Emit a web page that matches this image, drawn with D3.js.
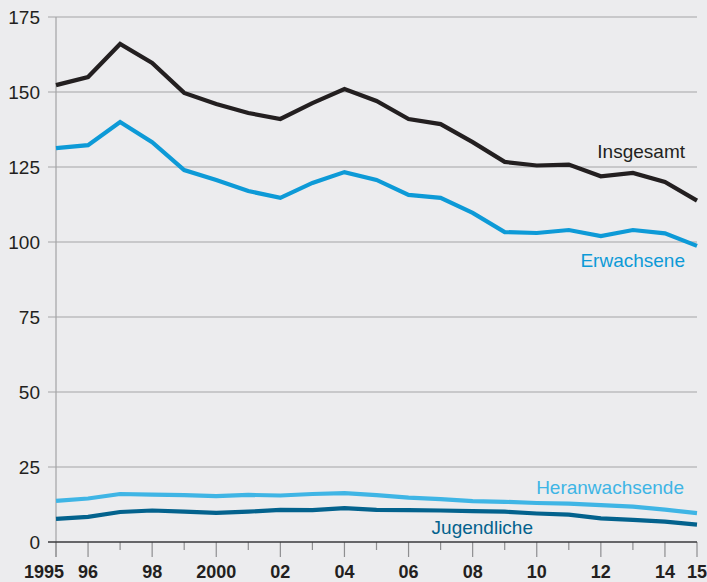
<!DOCTYPE html>
<html><head><meta charset="utf-8">
<script src="https://cdn.jsdelivr.net/npm/d3@7"></script>
<style>
html,body{margin:0;padding:0;background:#ececee;}
svg{display:block;font-family:"Liberation Sans",Arial,sans-serif;}
</style></head>
<body>
<svg id="c" width="707" height="582"></svg>
<script>
const years = d3.range(1995, 2016);
const insgesamt = [152.3,155,166,159.7,149.7,146,143,141,146.3,151,147,141,139.3,133.3,126.7,125.5,125.8,121.9,123,120,113.8];
const erwachsene = [131.3,132.3,140,133.3,124,120.7,117,114.7,119.7,123.3,120.7,115.7,114.7,109.7,103.3,103,104,102,104,102.9,98.7];
const heranwachsende = [13.7,14.5,16,15.8,15.6,15.3,15.7,15.5,16,16.3,15.6,14.8,14.3,13.6,13.4,13,12.8,12.3,11.8,10.8,9.6];
const jugendliche = [7.7,8.4,10,10.5,10.1,9.7,10.1,10.7,10.6,11.3,10.7,10.6,10.5,10.3,10.1,9.5,9.1,7.9,7.4,6.8,5.8];
const yTicks = [0,25,50,75,100,125,150,175];
const xLabels = {1995:"1995",1996:"96",1998:"98",2000:"2000",2002:"02",2004:"04",2006:"06",2008:"08",2010:"10",2012:"12",2014:"14",2015:"15"};

const series = [
  {name:"Insgesamt", values:insgesamt, color:"#231f20", lx:685, ly:158},
  {name:"Erwachsene", values:erwachsene, color:"#0d9ad7", lx:685, ly:267},
  {name:"Heranwachsende", values:heranwachsende, color:"#3fb5e5", lx:684, ly:494},
  {name:"Jugendliche", values:jugendliche, color:"#03628d", lx:533, ly:534}
];

const svg = d3.select("#c");
const x = d3.scaleLinear().domain([1995,2015]).range([56,697]);
const y = d3.scaleLinear().domain([0,175]).range([542,17]);

// grid
const grid = svg.append("g");
grid.selectAll("line").data(yTicks.filter(d=>d>0)).join("line")
  .attr("x1",48).attr("x2",697).attr("y1",d=>y(d)).attr("y2",d=>y(d))
  .attr("stroke","#a3a3a5").attr("stroke-width",1.2);

// y axis line
svg.append("line").attr("x1",x(1995)).attr("x2",x(1995)).attr("y1",y(175)).attr("y2",557)
  .attr("stroke","#a3a3a5").attr("stroke-width",1.2);

// y labels
svg.append("g").selectAll("text").data(yTicks).join("text")
  .attr("x",40).attr("y",d=>y(d)).attr("dy","0.36em").attr("text-anchor","end")
  .attr("font-size",19).attr("fill","#231f20").text(d=>d);

// x ticks
svg.append("g").selectAll("line").data(years).join("line")
  .attr("x1",d=>x(d)).attr("x2",d=>x(d)).attr("y1",y(0))
  .attr("y2",d=>xLabels[d]?557:550)
  .attr("stroke","#8e8e90").attr("stroke-width",1.2);

// baseline
svg.append("line").attr("x1",48).attr("x2",697).attr("y1",y(0)).attr("y2",y(0))
  .attr("stroke","#3a3a3c").attr("stroke-width",1.6);

// x labels
svg.append("g").selectAll("text").data(years.filter(d=>xLabels[d])).join("text")
  .attr("x",d=> d===1995 ? x(d)-12 : x(d)).attr("y",578).attr("text-anchor","middle")
  .attr("font-size",18).attr("font-weight","bold").attr("fill","#231f20")
  .text(d=>xLabels[d]);

// lines
const line = d3.line().x((d,i)=>x(years[i])).y(d=>y(d));
svg.append("g").selectAll("path").data(series).join("path")
  .attr("d",d=>line(d.values)).attr("fill","none")
  .attr("stroke",d=>d.color).attr("stroke-width",4.2).attr("stroke-linejoin","miter");

// labels
svg.append("g").selectAll("text").data(series).join("text")
  .attr("x",d=>d.lx).attr("y",d=>d.ly).attr("text-anchor","end")
  .attr("font-size",19).attr("fill",d=>d.color).text(d=>d.name);
</script>
</body></html>
